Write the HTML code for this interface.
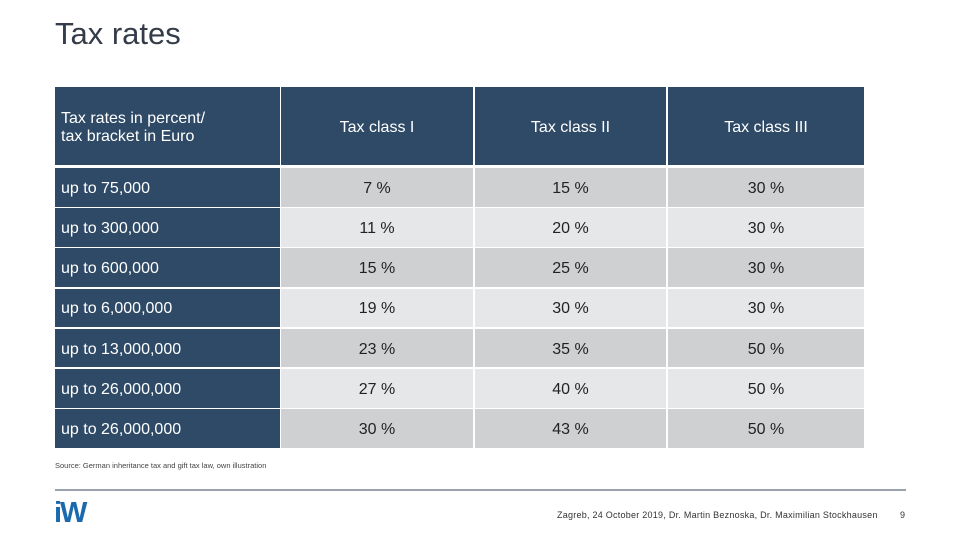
<!DOCTYPE html>
<html><head><meta charset="utf-8"><style>
body{margin:0;width:960px;height:540px;background:#fff;position:relative;overflow:hidden;font-family:"Liberation Sans",sans-serif}
.a{position:absolute;box-sizing:border-box;display:flex;align-items:center;padding-top:3px}
.h{background:#2e4a66;color:#fff;font-size:16px;justify-content:center}
.l{background:#2e4a66;color:#fff;font-size:16px;padding-left:6px}
.c{justify-content:center;font-size:16px;color:#222}
</style></head><body>
<div style="position:absolute;left:55px;top:16px;font-size:31px;color:#333c48">Tax rates</div>
<div id="t"></div>
<div style="position:absolute;left:55px;top:461px;font-size:7.5px;color:#444">Source: German inheritance tax and gift tax law, own illustration</div>
<div style="position:absolute;left:55px;top:489px;width:851px;height:2px;background:#9aa3ab"></div>
<div style="position:absolute;left:54px;top:497px;font-size:29px;font-weight:bold;color:#1a6aad;letter-spacing:-2px">iW</div>
<div style="position:absolute;left:557px;top:510px;font-size:9px;letter-spacing:0.25px;color:#333">Zagreb, 24 October 2019, Dr. Martin Beznoska, Dr. Maximilian Stockhausen</div>
<div style="position:absolute;left:900px;top:510px;font-size:9px;color:#333">9</div>
<script>
const headers=["Tax class I","Tax class II","Tax class III"];
const brackets=["up to 75,000","up to 300,000","up to 600,000","up to 6,000,000","up to 13,000,000","up to 26,000,000","up to 26,000,000"];
const classI=["7 %","11 %","15 %","19 %","23 %","27 %","30 %"];
const classII=["15 %","20 %","25 %","30 %","35 %","40 %","43 %"];
const classIII=["30 %","30 %","30 %","30 %","50 %","50 %","50 %"];
const cols=[[281,192],[475,191],[668,196]];
const t=document.getElementById('t');
function mk(cls,x,y,w,h,txt,bg){const d=document.createElement('div');d.className='a '+cls;d.style.left=x+'px';d.style.top=y+'px';d.style.width=w+'px';d.style.height=h+'px';if(bg)d.style.background=bg;d.innerHTML=txt;t.appendChild(d);return d;}
let e=mk('l',55,87,225,78,'Tax rates in percent/<br>tax bracket in Euro');


headers.forEach((h,i)=>{const d=mk('h',cols[i][0],87,cols[i][1],78,h);

});
const vals=[classI,classII,classIII];
brackets.forEach((b,r)=>{const y=168+r*40.2;const bg=r%2==0?'#cfd0d2':'#e6e7e8';
const d=mk('l',55,y,225,38.5,b);


vals.forEach((v,i)=>{const c=mk('c',cols[i][0],y,cols[i][1],38.5,v[r],bg);

});});
</script>
</body></html>
